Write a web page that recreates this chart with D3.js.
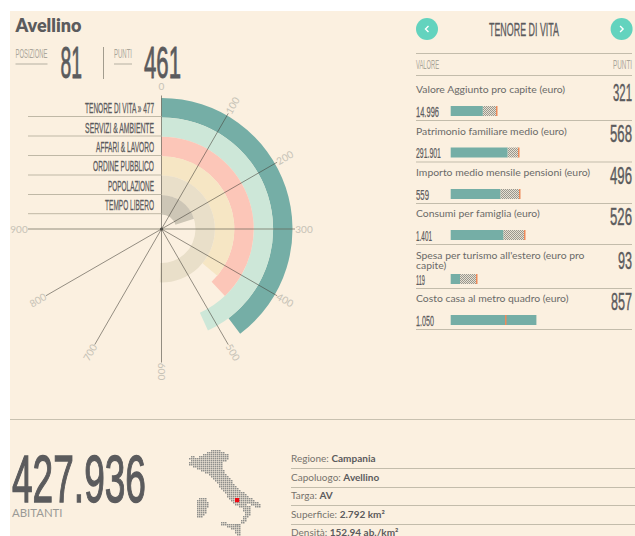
<!DOCTYPE html>
<html><head><meta charset="utf-8">
<script src="https://cdn.jsdelivr.net/npm/d3@7/dist/d3.min.js"></script>
<style>html,body{margin:0;padding:0;background:#fff;overflow:hidden}svg{display:block}
text{font-family:Lato,"Open Sans",sans-serif}
.n{font-family:"Liberation Sans Narrow","Liberation Sans",sans-serif;font-weight:400}</style>
</head><body><svg id="c" width="635" height="536"></svg>
<script>
// ---- data ----
const categories = ["TENORE DI VITA » 477","SERVIZI & AMBIENTE","AFFARI & LAVORO","ORDINE PUBBLICO","POPOLAZIONE","TEMPO LIBERO"];
const categoryScores = [477,518,455,433,606,242];
const axisTicks = [0,100,200,300,400,500,600,700,800,900];
const indicatorNames = [["Valore Aggiunto pro capite (euro)"],["Patrimonio familiare medio (euro)"],["Importo medio mensile pensioni (euro)"],["Consumi per famiglia (euro)"],["Spesa per turismo all'estero (euro pro","capite)"],["Costo casa al metro quadro (euro)"]];
const indicatorValues = ["14.996","291.901","559","1.401","119","1.050"];
const indicatorPoints = [321,568,496,526,93,857];
const indicatorBenchmarks = [460,680,690,740,260,550];
const infoLabels = ["Regione: ","Capoluogo: ","Targa: ","Superficie: ","Densità: "];
const infoValues = ["Campania","Avellino","AV","2.792 km²","152.94 ab./km²"];
// Italy dot-map: [row, first column, last column]
const mapRows = [[0,13,17],[1,11,19],[2,9,21],[3,3,4],[3,7,21],[4,2,21],[5,3,20],[6,2,18],[7,2,18],[8,4,18],[9,6,18],[10,8,19],[11,10,19],[12,12,20],[13,13,21],[14,14,22],[15,15,23],[16,16,23],[17,17,24],[18,17,25],[19,18,26],[20,19,27],[21,20,29],[22,21,30],[23,21,31],[24,22,33],[25,23,34],[26,24,36],[27,25,30],[27,33,37],[28,27,32],[28,35,37],[29,29,32],[30,29,32],[31,30,32],[32,30,32],[33,29,31],[34,29,30],[35,28,30],[36,28,29],[37,25,26],
 [24,7,10],[25,6,10],[26,6,11],[27,6,11],[28,6,11],[29,6,10],[30,6,10],[31,6,10],[32,6,9],[33,6,8],
 [36,18,20],[37,18,27],[38,21,27],[39,23,27],[40,25,27],[41,25,27],[42,26,27]];
const mapHighlight = [[24,25],[24,26],[25,25],[25,26]];

// ---- layout / style ----
const bandColors = ["#75aea6","#cde7d8","#fcc6b8","#f6e6c4","#e9dfc9","#cdc6b6"];
const labelWidths = [69,69,58,61,46,49];
const labelY = [113,132.5,152,171,190.5,210];
const ruleY = [116.5,136,155.5,175,194.5,213.7];
const rowTitleY = [93,134.5,176,217,[259,269],302];
const rowBarY = [106,147.5,189,230,274,315];
const rowRuleY = [120,161.5,203,244,288,329];
const valueW = [23,25,13,16,9,18];
const pointW = [19,22,22,22,14,21];
const cx=161.5, cy=229;
const dark="#5b5b5d", soft="#c6c2b6", rule="#c3bcab";

const svg=d3.select("#c");
svg.append("rect").attr("x",10).attr("y",11).attr("width",625).attr("height",525).attr("fill","#fbf0e0");
const defs=svg.append("defs");
const pat=defs.append("pattern").attr("id","hatch").attr("width",2).attr("height",2).attr("patternUnits","userSpaceOnUse");
pat.append("rect").attr("width",2).attr("height",2).attr("fill","#e6e0d2");
pat.append("rect").attr("width",1).attr("height",1).attr("fill","#9a978e");
pat.append("rect").attr("x",1).attr("y",1).attr("width",1).attr("height",1).attr("fill","#9a978e");

// condensed headline text: natural narrow face, squeezed to the measured width, thickened with a hairline stroke
function nt(g,s,x,y,size,w,fill,anchor,sw){
  const t=g.append("text").attr("class","n").attr("font-size",size).attr("fill",fill)
   .attr("stroke",fill).attr("stroke-width",sw||0).attr("text-anchor",anchor||"start").text(s);
  const k=w/t.node().getComputedTextLength();
  return t.attr("transform",`translate(${x},${y}) scale(${k},1)`);
}
function line(x1,y1,x2,y2,c,w){svg.append("line").attr("x1",x1).attr("y1",y1).attr("x2",x2).attr("y2",y2).attr("stroke",c||rule).attr("stroke-width",w||1);}

// header
svg.append("text").attr("x",15.5).attr("y",31.5).attr("font-size",18).attr("font-weight",800).attr("fill",dark).text("Avellino");
nt(svg,"POSIZIONE",15.5,57.5,12.5,32,"#aaa69a"); line(15.5,64,47.5,64,"#b5b0a2");
nt(svg,"81",60.5,78,44,21.5,dark,"start",.9);
line(103.5,47,103.5,79,"#a29c8e");
nt(svg,"PUNTI",114,57.5,12.5,18,"#aaa69a"); line(114,64,132,64,"#b5b0a2");
nt(svg,"461",144,78,44,37,dark,"start",.9);

// radial chart
const angle=d3.scaleLinear().domain([0,1000]).range([0,300*Math.PI/180]);
const radius=d3.scaleBand().domain(d3.range(categories.length)).range([131,14.6]);
const plot=svg.append("g").attr("transform",`translate(${cx},${cy})`);
const arc=d3.arc();
plot.selectAll("path.band").data(categoryScores).join("path").attr("class","band")
 .attr("fill",(d,i)=>bandColors[i])
 .attr("d",(d,i)=>arc({innerRadius:radius(i),outerRadius:radius(i)+radius.bandwidth(),startAngle:0,endAngle:angle(d)}));

categories.forEach((c,i)=>{
  line(28,ruleY[i],cx,ruleY[i],"#bfb8a6");
  nt(svg,c,154,labelY[i],15,labelWidths[i],dark,"end",.3);
});
const R=133.5;
axisTicks.forEach(t=>{
  const a=angle(t), s=Math.sin(a), co=-Math.cos(a), h=(t===300||t===900);
  plot.append("line").attr("x2",s*R).attr("y2",co*R)
    .attr("stroke",h?"rgba(100,95,80,.45)":"rgba(70,66,58,.72)").attr("stroke-width",h?1.5:.8);
  const deg=a*180/Math.PI; let rot=deg-90; if(rot>90) rot-=180;
  if(t===0) rot=0;
  plot.append("text").attr("transform",`translate(${s*142.5},${co*142.5}) rotate(${rot})`)
    .attr("text-anchor","middle").attr("dy","0.35em").attr("font-size",10).attr("fill",soft).text(t);
});
plot.append("circle").attr("r",1.6).attr("fill","#4d4a44");

// right panel
[427,621.6].forEach((x,i)=>{
  svg.append("circle").attr("cx",x).attr("cy",29).attr("r",11).attr("fill","#63d3be");
  svg.append("path").attr("d",i?`M${x-1.5},26 L${x+1.5},29 L${x-1.5},32`:`M${x+1.5},26 L${x-1.5},29 L${x+1.5},32`)
    .attr("fill","none").attr("stroke","#fff").attr("stroke-width",1.4);
});
nt(svg,"TENORE DI VITA",524,35.5,19,70,dark,"middle",.35);
line(416,53.5,632,53.5); line(416,75.5,632,75.5);
nt(svg,"VALORE",416,69,13,23,"#aaa69a");
nt(svg,"PUNTI",632,69,13,19,"#aaa69a","end");
const barX=d3.scaleLinear().domain([0,1000]).range([450.7,550.7]);
indicatorNames.forEach((ln,i)=>{
  const ys=[].concat(rowTitleY[i]);
  ln.forEach((s,k)=>svg.append("text").attr("x",416).attr("y",ys[k]).attr("font-size",10.4).attr("fill","#6a6a68").text(s));
  nt(svg,indicatorValues[i],416,rowBarY[i]+10.5,15,valueW[i],dark,"start",.25);
  nt(svg,indicatorPoints[i],632,rowBarY[i]-5.5,24,pointW[i],dark,"end",.45);
  const p=indicatorPoints[i], b=indicatorBenchmarks[i], y=rowBarY[i];
  if(b>p) svg.append("rect").attr("x",barX(p)).attr("y",y).attr("width",barX(b)-barX(p)).attr("height",10).attr("fill","url(#hatch)");
  svg.append("rect").attr("x",barX(0)).attr("y",y).attr("width",barX(p)-barX(0)).attr("height",10).attr("fill","#75aea6");
  svg.append("rect").attr("x",Math.round(barX(b))-1).attr("y",y).attr("width",1.5).attr("height",10).attr("fill","#ee8a5a");
  line(416,rowRuleY[i]+.5,632,rowRuleY[i]+.5);
});

// footer
line(10,419.5,635,419.5,"#c8c1b0");
nt(svg,"427.936",12,501.5,66,134,dark,"start",1.4);
svg.append("text").attr("x",12).attr("y",517).attr("font-size",11.4).attr("fill","#9a9a96").text("ABITANTI");
const mx=d3.scaleLinear().domain([0,1]).range([185,187]), my=d3.scaleLinear().domain([0,1]).range([450,452]);
const cells=mapRows.flatMap(([j,a,b])=>d3.range(a,b+1).map(i=>[j,i]));
svg.append("g").selectAll("rect").data(cells).join("rect")
 .attr("x",d=>mx(d[1])).attr("y",d=>my(d[0])).attr("width",1.5).attr("height",1.5).attr("fill","#8f8f8c");
svg.append("g").selectAll("rect").data(mapHighlight).join("rect")
 .attr("x",d=>mx(d[1])).attr("y",d=>my(d[0])).attr("width",2.2).attr("height",2.2).attr("fill","#ee0a14");
const infoY=[462,481,499,518,536], infoRule=[468,487,505,524];
infoLabels.forEach((l,i)=>{
  const t=svg.append("text").attr("x",291).attr("y",infoY[i]).attr("font-size",10).attr("fill","#77736d").text(l);
  t.append("tspan").attr("font-weight",700).attr("fill",dark).text(infoValues[i]);
});
infoRule.forEach(y=>line(291,y+.5,635,y+.5));
</script></body></html>
